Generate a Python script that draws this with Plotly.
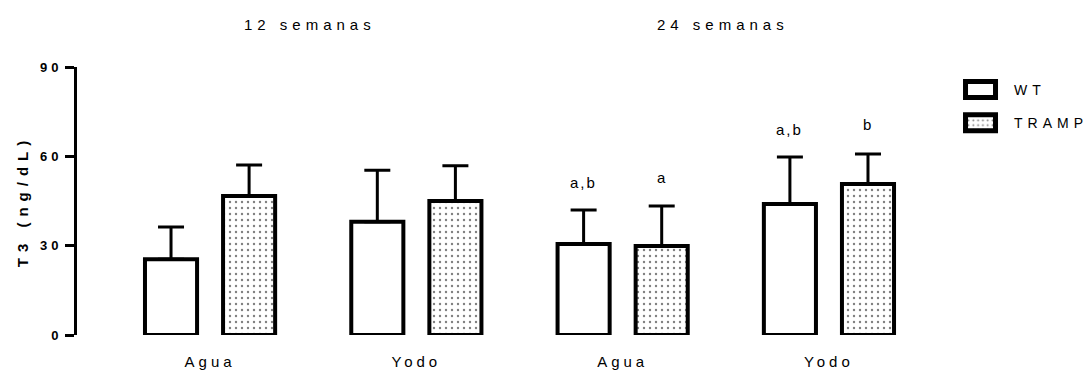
import plotly.graph_objects as go

# ---- data ----
groups = ["Agua", "Yodo", "Agua", "Yodo"]
periods = ["12 semanas", "24 semanas"]
wt_mean = [25.4, 38.0, 30.6, 44.0]
wt_sem = [10.9, 17.3, 11.4, 15.8]
tramp_mean = [46.7, 45.0, 29.9, 50.7]
tramp_sem = [10.4, 11.8, 13.4, 10.1]
wt_letters = ["", "", "a,b", "a,b"]
tramp_letters = ["", "", "a", "b"]
y_ticks = [0, 30, 60, 90]

FONT = "Liberation Sans, Arial, sans-serif"


def sp(text, ls):
    return f'<span style="letter-spacing:{ls}px">{text}</span>'


xpos = list(range(len(groups)))

fig = go.Figure()
fig.add_trace(go.Bar(
    x=xpos, y=wt_mean, name=sp("WT", 5),
    marker=dict(color="white", line=dict(color="black", width=4)),
    error_y=dict(type="data", array=wt_sem, arrayminus=[0] * 4, symmetric=False,
                 color="black", thickness=3, width=13),
    cliponaxis=False, legendgroup="wt",
))
fig.add_trace(go.Bar(
    x=xpos, y=tramp_mean, name=sp("TRAMP", 5),
    marker=dict(color="white", line=dict(color="black", width=4),
                pattern=dict(shape=".", size=6, solidity=0.12,
                             fgcolor="black", bgcolor="white")),
    error_y=dict(type="data", array=tramp_sem, arrayminus=[0] * 4, symmetric=False,
                 color="black", thickness=3, width=13),
    cliponaxis=False, legendgroup="tramp",
))

off = 0.189
annotations = []
for i in range(len(groups)):
    if wt_letters[i]:
        annotations.append(dict(x=i - off, y=wt_mean[i] + wt_sem[i], yshift=27,
                                text=sp(wt_letters[i], 2), showarrow=False,
                                font=dict(size=15, color="black", family=FONT)))
    if tramp_letters[i]:
        annotations.append(dict(x=i + off, y=tramp_mean[i] + tramp_sem[i], yshift=29,
                                text=sp(tramp_letters[i], 2), showarrow=False,
                                font=dict(size=15, color="black", family=FONT)))
for k, p in enumerate(periods):
    annotations.append(dict(x=0.5 + 2 * k - 0.015, xref="x", y=1.157, yref="paper",
                            text=sp(p, 5), showarrow=False, yanchor="middle",
                            font=dict(size=15, color="black", family=FONT)))

fig.update_layout(
    width=1092, height=373,
    margin=dict(l=69, r=158, t=59, b=46, autoexpand=False),
    paper_bgcolor="white", plot_bgcolor="white",
    barmode="group", bargap=0.243, bargroupgap=0.333,
    font=dict(family=FONT, color="black"),
    showlegend=True,
    legend=dict(x=1.0058, y=0.974, xanchor="left", yanchor="top",
                font=dict(size=14, family=FONT, color="black"),
                traceorder="grouped", tracegroupgap=12, itemwidth=57,
                bgcolor="rgba(0,0,0,0)"),
    annotations=annotations,
    xaxis=dict(range=[-0.645, 3.548], tickvals=xpos,
               ticktext=[sp(g, 4) for g in groups],
               tickfont=dict(size=15, family=FONT, color="black"),
               showline=False, ticks="", showgrid=False, zeroline=False,
               ticklabelstandoff=16, automargin=False),
    yaxis=dict(range=[0, 90], tickvals=y_ticks,
               ticktext=[sp(str(t), 4) for t in y_ticks],
               tickfont=dict(size=13, family=FONT, color="black", weight="bold"),
               showline=True, linewidth=3, linecolor="black",
               ticks="outside", ticklen=9, tickwidth=3, tickcolor="black",
               showgrid=False, zeroline=False, automargin=False,
               title=dict(text=sp("T3 (ng/dL)", 6), standoff=8,
                          font=dict(size=15, family=FONT, color="black", weight="bold"))),
)

post = """
var gd = document.getElementById('{plot_id}');
function fixLegend() {
  gd.querySelectorAll('.legend .legendpoints path').forEach(function (p) {
    p.setAttribute('d', 'M15,8H-15V-8H15Z');
    p.style.strokeWidth = '5px';
  });
}
fixLegend();
gd.on('plotly_afterplot', fixLegend);
"""

fig.write_html("out.html", post_script=post)
